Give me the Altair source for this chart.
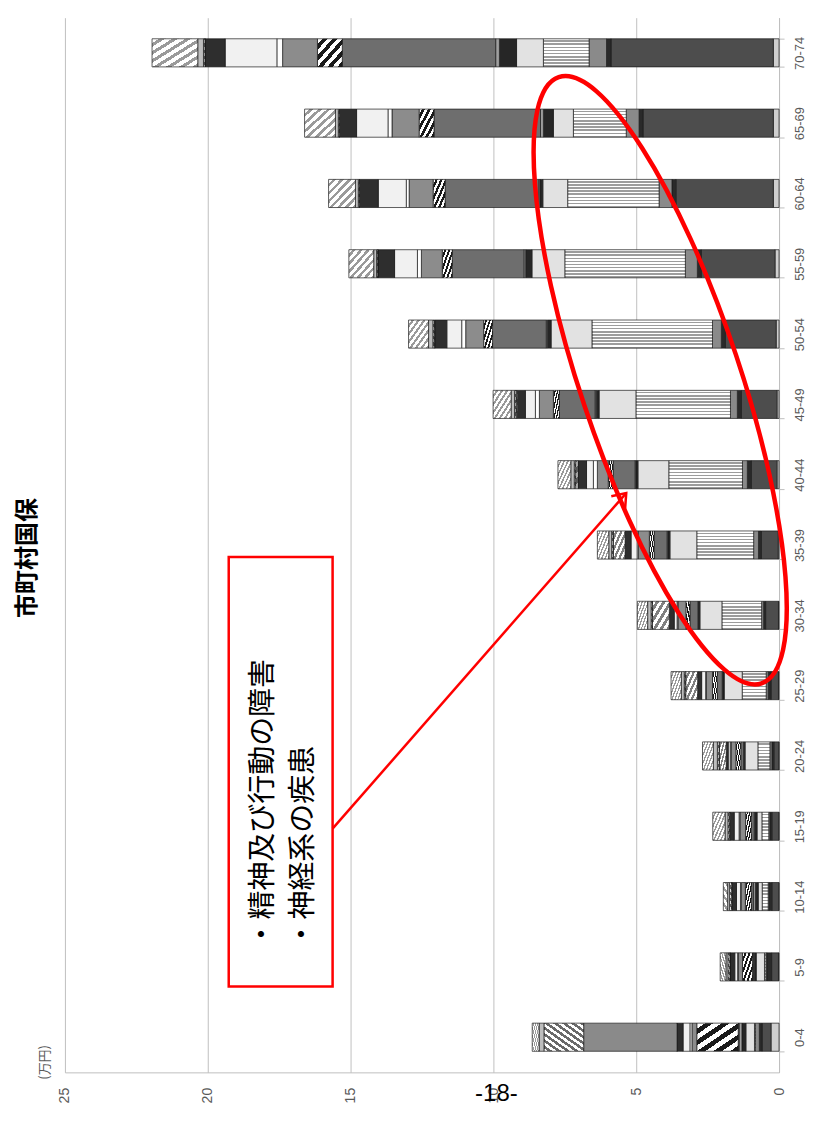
import altair as alt
import pandas as pd

# ---------------- data ----------------
ages = ["0-4", "5-9", "10-14", "15-19", "20-24", "25-29", "30-34", "35-39",
        "40-44", "45-49", "50-54", "55-59", "60-64", "65-69", "70-74"]

series_names = [
    "感染症及び寄生虫症", "新生物", "血液及び造血器の疾患", "内分泌、栄養及び代謝疾患",
    "精神及び行動の障害", "神経系の疾患", "眼及び付属器の疾患", "耳及び乳様突起の疾患",
    "循環器系の疾患", "呼吸器系の疾患", "消化器系の疾患", "皮膚及び皮下組織の疾患",
    "筋骨格系及び結合組織の疾患", "腎尿路生殖器系の疾患", "妊娠、分娩及び産じょく",
    "周産期に発生した病態", "先天奇形、変形及び染色体異常", "症状、徴候及び異常臨床所見",
    "損傷、中毒及びその他の外因の影響",
]
codes = list("ABCDEFGHIJKLMNOPQRS")

# values (万円) per age group, order as in `ages`
s_a = [0.28, 0.02, 0.01, 0.01, 0.01, 0.02, 0.02, 0.03, 0.07, 0.07, 0.10, 0.14, 0.20, 0.20, 0.20]
s_b = [0.31, 0.24, 0.24, 0.24, 0.17, 0.26, 0.45, 0.59, 0.90, 1.25, 1.78, 2.58, 3.41, 4.56, 5.68]
s_c = [0.10, 0.17, 0.10, 0.07, 0.07, 0.10, 0.07, 0.10, 0.14, 0.14, 0.14, 0.14, 0.14, 0.14, 0.16]
s_d = [0.14, 0.03, 0.03, 0.04, 0.07, 0.07, 0.07, 0.17, 0.17, 0.24, 0.31, 0.42, 0.45, 0.45, 0.61]
s_e = [0.03, 0.05, 0.21, 0.24, 0.42, 0.84, 1.39, 1.99, 2.58, 3.31, 4.22, 4.22, 3.20, 1.85, 1.60]
s_f = [0.30, 0.29, 0.14, 0.17, 0.45, 0.63, 0.77, 0.94, 1.08, 1.29, 1.43, 1.15, 0.87, 0.70, 0.94]
s_g = [0.14, 0.07, 0.10, 0.07, 0.03, 0.05, 0.05, 0.07, 0.07, 0.10, 0.13, 0.22, 0.10, 0.35, 0.60]
s_h = [0.10, 0.03, 0.07, 0.03, 0.02, 0.02, 0.02, 0.03, 0.03, 0.04, 0.04, 0.06, 0.04, 0.10, 0.13]
s_i = [0.03, 0.03, 0.07, 0.10, 0.10, 0.17, 0.28, 0.45, 0.77, 1.25, 1.88, 2.51, 3.28, 3.73, 5.37]
s_j = [1.45, 0.35, 0.21, 0.20, 0.17, 0.17, 0.14, 0.17, 0.17, 0.21, 0.31, 0.35, 0.42, 0.52, 0.87]
s_k = [0.17, 0.14, 0.14, 0.20, 0.17, 0.21, 0.28, 0.38, 0.38, 0.49, 0.63, 0.73, 0.84, 0.95, 1.22]
s_l = [0.07, 0.03, 0.03, 0.03, 0.03, 0.03, 0.03, 0.05, 0.14, 0.14, 0.14, 0.14, 0.10, 0.14, 0.20]
s_m = [0.24, 0.10, 0.14, 0.17, 0.07, 0.14, 0.10, 0.21, 0.24, 0.35, 0.52, 0.80, 0.98, 1.10, 1.81]
s_n = [0.21, 0.17, 0.17, 0.14, 0.07, 0.14, 0.17, 0.21, 0.30, 0.28, 0.42, 0.59, 0.66, 0.60, 0.71]
s_o = [0.00, 0.00, 0.00, 0.02, 0.25, 0.42, 0.59, 0.42, 0.08, 0.05, 0.02, 0.00, 0.00, 0.00, 0.00]
s_p = [3.27, 0.00, 0.00, 0.00, 0.00, 0.00, 0.00, 0.00, 0.00, 0.00, 0.00, 0.00, 0.00, 0.00, 0.00]
s_q = [1.39, 0.07, 0.07, 0.06, 0.06, 0.05, 0.05, 0.05, 0.05, 0.05, 0.05, 0.04, 0.04, 0.04, 0.05]
s_r = [0.17, 0.07, 0.07, 0.10, 0.14, 0.10, 0.12, 0.10, 0.12, 0.12, 0.15, 0.10, 0.10, 0.10, 0.20]
s_s = [0.24, 0.20, 0.15, 0.43, 0.38, 0.36, 0.36, 0.40, 0.45, 0.63, 0.70, 0.87, 0.94, 1.08, 1.60]

x_ticks = [0, 5, 10, 15, 20, 25]

all_series = [s_a, s_b, s_c, s_d, s_e, s_f, s_g, s_h, s_i, s_j, s_k, s_l, s_m,
              s_n, s_o, s_p, s_q, s_r, s_s]

rows = []
for k, (code, name, vals) in enumerate(zip(codes, series_names, all_series)):
    for age, v in zip(ages, vals):
        rows.append({"age": age, "code": code, "series": name, "ord": k, "value": v})
df = pd.DataFrame(rows)


# ---------------- styling helpers ----------------
def stripes(c1, c2, n, frac, x1, y1, x2, y2):
    stops = []
    for k in range(n):
        a, b, c = k / n, (k + frac) / n, (k + 1) / n
        stops += [{"offset": a, "color": c1}, {"offset": b, "color": c1},
                  {"offset": b, "color": c2}, {"offset": c, "color": c2}]
    return {"gradient": "linear", "x1": x1, "y1": y1, "x2": x2, "y2": y2, "stops": stops}


fills = {
    "A": "#cfcfcf",
    "B": "#4d4d4d",
    "C": "#2a2a2a",
    "D": "#8a8a8a",
    "E": stripes("#ffffff", "#9c9c9c", 9, 0.5, 0, 0, 0, 1),
    "F": "#e2e2e2",
    "G": "#262626",
    "H": "#a0a0a0",
    "I": "#6e6e6e",
    "J": stripes("#ffffff", "#1a1a1a", 5, 0.5, 0, 0, 1, 1),
    "K": "#8c8c8c",
    "L": "#ffffff",
    "M": "#f1f1f1",
    "N": "#2e2e2e",
    "O": stripes("#ffffff", "#808080", 5, 0.5, 0, 0, 1, 1),
    "P": "#8a8a8a",
    "Q": stripes("#ffffff", "#6a6a6a", 9, 0.5, 0, 1, 1, 0),
    "R": "#bdbdbd",
    "S": stripes("#ffffff", "#9a9a9a", 7, 0.55, 0, 0, 1, 1),
}
fill_enc = {
    "condition": [{"test": f"datum.code === '{c}'", "value": fills[c]} for c in codes],
    "value": "#999999",
}

LABEL_FONT = "Liberation Sans"
JP_FONT = "Noto Sans CJK JP"

bars = alt.Chart(df).mark_bar(stroke="#1a1a1a", strokeWidth=0.7).encode(
    y=alt.Y("age:N", sort=list(reversed(ages)),
            scale=alt.Scale(paddingInner=0.6, paddingOuter=0.3),
            axis=alt.Axis(orient="right", title=None, labelAngle=270,
                          labelAlign="center", labelBaseline="top",
                          labelPadding=9, labelFontSize=13, labelFont=LABEL_FONT,
                          labelColor="#595959", tickColor="#bfbfbf", tickSize=5,
                          tickBand="extent", domainColor="#bfbfbf", grid=False,
                          labelOverlap=False)),
    x=alt.X("value:Q", stack="zero",
            scale=alt.Scale(domain=[0, 25], reverse=True, nice=False),
            axis=alt.Axis(values=x_ticks, title=None, labelAngle=270,
                          labelAlign="right", labelBaseline="middle",
                          labelPadding=15, labelFontSize=14, labelFont=LABEL_FONT,
                          labelColor="#595959", ticks=False, domainColor="#bfbfbf",
                          gridColor="#c0c0c0", gridWidth=1, labelOverlap=False)),
    order=alt.Order("ord:Q", sort="ascending"),
    fill=fill_enc,
)

one = pd.DataFrame({"k": [0]})

ellipse_path = ("M1,0 C1,0.138 0.552,0.25 0,0.25 C-0.552,0.25 -1,0.138 -1,0 "
                "C-1,-0.138 -0.552,-0.25 0,-0.25 C0.552,-0.25 1,-0.138 1,0 Z")
ellipse = alt.Chart(one).mark_point(
    shape=ellipse_path, filled=False, stroke="#ff0000", strokeWidth=4.5,
    size=640 * 640, angle=71.5, opacity=1
).encode(x=alt.value(596), y=alt.value(363))

box = alt.Chart(one).mark_rect(
    fill="#ffffff", stroke="#ff0000", strokeWidth=2.5
).encode(x=alt.value(164), x2=alt.value(268), y=alt.value(540), y2=alt.value(970))

note1 = alt.Chart(one).mark_text(
    text="・精神及び行動の障害", angle=270, align="left", baseline="middle",
    font=JP_FONT, fontSize=29, color="#000000"
).encode(x=alt.value(198), y=alt.value(932))

note2 = alt.Chart(one).mark_text(
    text="・神経系の疾患", angle=270, align="left", baseline="middle",
    font=JP_FONT, fontSize=29, color="#000000"
).encode(x=alt.value(238), y=alt.value(932))

arrow = alt.Chart(one).mark_rule(color="#ff0000", strokeWidth=2.5).encode(
    x=alt.value(268), y=alt.value(812), x2=alt.value(562), y2=alt.value(476))

head = alt.Chart(one).mark_point(
    shape="M-1,-0.75 L0,0 L-1,0.75", filled=False, stroke="#ff0000",
    strokeWidth=2.5, size=600, angle=311, opacity=1
).encode(x=alt.value(562), y=alt.value(476))

title = alt.Chart(one).mark_text(
    text="市町村国保", angle=270, align="center", baseline="middle",
    font=JP_FONT, fontSize=24, fontWeight="bold", color="#000000"
).encode(x=alt.value(-37), y=alt.value(541))

unit = alt.Chart(one).mark_text(
    text="(万円)", angle=270, align="center", baseline="middle",
    font=JP_FONT, fontSize=13, color="#595959"
).encode(x=alt.value(-20), y=alt.value(1046))

page = alt.Chart(one).mark_text(
    text="-18-", align="center", baseline="middle",
    font=LABEL_FONT, fontSize=24, color="#000000"
).encode(x=alt.value(432), y=alt.value(1078))

chart = alt.layer(bars, ellipse, box, note1, note2, arrow, head, title, unit, page).properties(
    width=715, height=1056,
    autosize=alt.AutoSizeParams(type="none"),
    padding={"left": 57, "top": 9, "right": 33, "bottom": 36},
).configure_view(stroke=None)

chart.save("out.html", embed_options={"renderer": "svg", "actions": False})
